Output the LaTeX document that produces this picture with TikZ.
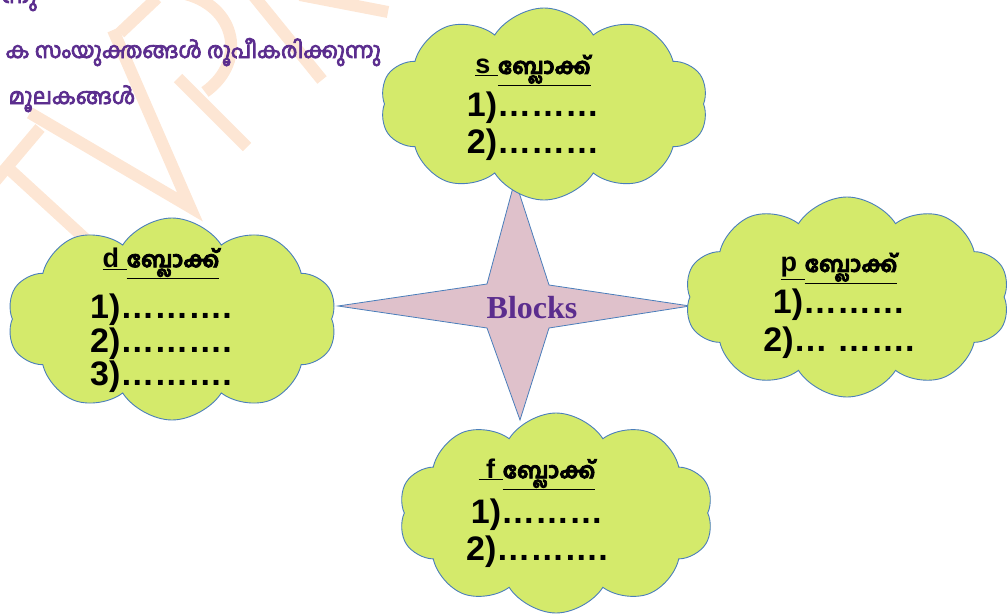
\documentclass[tikz,border=0pt]{standalone}
\usepackage{fontspec}
\setmainfont{Liberation Sans}
\newfontfamily\mlfont[Script=Malayalam, FakeBold=3.5]{Hind Kochi}
\newfontfamily\blocksfont{Liberation Serif}
\usetikzlibrary{shapes.symbols}

\definecolor{cloudfill}{HTML}{D4EA6B}
\definecolor{cloudline}{HTML}{4A7EBB}
\definecolor{starfill}{HTML}{DFC1CB}
\definecolor{titlepurple}{HTML}{5B2D8E}
\definecolor{marksoft}{HTML}{FDE6D4}

\newcommand{\blockhead}[1]{{\fontsize{27}{30}\selectfont\underline{#1}\underline{\mlfont\fontsize{22}{30}\selectfont ബ്ലോക്ക്}}}

\tikzset{
  blockcloud/.style={cloud, cloud puffs=10, cloud puff arc=115, cloud ignores aspect,
    draw=cloudline, fill=cloudfill, line width=0.9pt, inner sep=0pt},
  blocktext/.style={align=center, font=\bfseries\fontsize{34}{37}\selectfont},
  wmline/.style={draw=marksoft, line width=12pt, line join=miter},
  headline/.style={anchor=base west, text=titlepurple, font=\mlfont\fontsize{22}{26}\selectfont}
}

\begin{document}
\begin{tikzpicture}[x=1pt,y=-1pt]
  \useasboundingbox (0,0) rectangle (1008,613);
  \clip (0,0) rectangle (1008,613);

  % watermark
  \draw[wmline] (-25,205) -- (40,128);
  \draw[wmline] (8,168) -- (92,245);
  \draw[wmline] (30,113) -- (190,207) -- (113,30);
  \draw[wmline] (120,33) -- (157,-2);
  \draw[wmline] (175,-8) .. controls (235,0) and (250,60) .. (205,92);
  \draw[wmline] (178,78) -- (247,147);
  \draw[wmline] (253,-5) -- (322,80);
  \draw[wmline] (300,-5) -- (388,12);

  % heading lines (cut at the edge)
  \node[headline] (line1) at (-2,3) {ന്നു};
  \node[headline] (line2) at (2,58) {ക സംയുക്തങ്ങൾ രൂപീകരിക്കുന്നു};
  \node[headline] (line3) at (5,104) {മൂലകങ്ങൾ};

  % star
  \draw[cloudline, fill=starfill, line width=0.8pt]
    (338,306) -- (487,284) -- (515,180) -- (549,285) -- (690,306)
    -- (549,328) -- (520,420) -- (487,328) -- cycle;
  \node[text=titlepurple, font=\blocksfont\bfseries\fontsize{32}{36}\selectfont]
    (blocks) at (532,308) {Blocks};

  % clouds
  \node[blockcloud, minimum width=328pt, minimum height=192pt] (scloud) at (544,104) {};
  \node[blockcloud, minimum width=330pt, minimum height=202pt] (dcloud) at (172,319) {};
  \node[blockcloud, minimum width=325pt, minimum height=200pt] (pcloud) at (847,297) {};
  \node[blockcloud, minimum width=315pt, minimum height=200pt] (fcloud) at (556,513) {};

  \node[blocktext] (stext) at (533,108) {\blockhead{s\ }\\[6pt] 1)………\\ 2)………};
  \node[blocktext] (dtext) at (161,320) {\blockhead{d\ }\\[14pt] 1)……….\\[-3pt] 2)……….\\[-4pt] 3)……….};
  \node[blocktext] (ptext) at (839,306) {\blockhead{p\ }\\[5pt] 1)………\\[1pt] 2)… …….};
  \node[blocktext] (ftext) at (537,513) {\blockhead{\ f\ }\\[8pt] 1)………\\ 2)……….};
\end{tikzpicture}
\end{document}
